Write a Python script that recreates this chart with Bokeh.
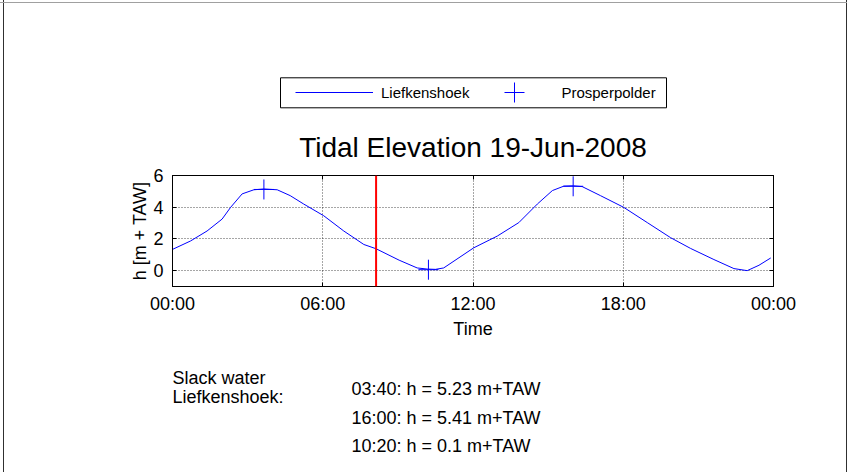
from bokeh.plotting import figure
from bokeh.layouts import column
from bokeh.models import (Range1d, FixedTicker, LinearAxis, Span, Label, Legend,
                          LegendItem, BoxAnnotation)
from bokeh.embed import file_html
from bokeh.resources import INLINE

FONT = "Liberation Sans"

# ---- data (hours since midnight, metres + TAW) ----
time_h = [0.0, 0.72, 1.38, 1.98, 2.32, 2.78, 3.25, 3.65, 4.18, 4.70, 5.24, 6.04,
          6.84, 7.64, 8.13, 9.05, 9.77, 10.17, 10.50, 10.83, 12.03, 12.97, 13.83,
          14.57, 15.17, 15.63, 16.00, 16.36, 17.09, 18.02, 18.96, 19.89, 20.69,
          21.62, 22.42, 22.95, 23.42, 23.89]
level_m = [1.34, 1.87, 2.50, 3.25, 3.99, 4.84, 5.10, 5.15, 5.10, 4.73, 4.20, 3.46,
           2.50, 1.65, 1.38, 0.66, 0.17, 0.10, 0.08, 0.17, 1.44, 2.18, 3.03,
           4.20, 5.05, 5.33, 5.35, 5.30, 4.73, 3.99, 3.03, 2.08, 1.40,
           0.70, 0.13, 0.00, 0.34, 0.80]
slack_time_h = [3.65, 16.0, 10.22]
slack_level_m = [5.12, 5.32, 0.06]
current_time_h = 8.13

x_ticks = [0, 6, 12, 18, 24]
x_tick_labels = ["00:00", "06:00", "12:00", "18:00", "00:00"]
y_ticks = [0, 2, 4, 6]

title_text = "Tidal Elevation 19-Jun-2008"
series_names = ["Liefkenshoek", "Prosperpolder"]
note_heading = ["Slack water", "Liefkenshoek:"]
note_lines = ["03:40: h = 5.23 m+TAW", "16:00: h = 5.41 m+TAW", "10:20: h = 0.1 m+TAW"]

W = 847
FRAME_L, FRAME_R = 172, 773   # page x of the chart's plotting area
LINE_COLOR = "#0000ff"


def canvas_fig(h):
    """A text/legend strip; its plotting area lines up with the chart's, in page pixels."""
    f = figure(width=W, height=h, output_backend="svg", toolbar_location=None,
               title=None, x_axis_location=None, y_axis_location=None,
               x_range=Range1d(FRAME_L, FRAME_R), y_range=Range1d(0, h), min_border=0)
    f.outline_line_color = None
    f.background_fill_alpha = 0
    f.border_fill_alpha = 0
    f.xgrid.visible = False
    f.ygrid.visible = False
    return f


# ---- top: legend and title ----
H_TOP = 165
top = canvas_fig(H_TOP)
top.add_layout(BoxAnnotation(left=280, right=666, bottom=H_TOP - 107.3, top=H_TOP - 77.3,
                             fill_color="white", fill_alpha=1.0,
                             line_color="black", line_width=1, line_alpha=1.0))
# legend-only renderers: same series, which fall outside this strip's range
leg_line = top.line(time_h, level_m, line_color=LINE_COLOR, line_width=1)
leg_cross = top.scatter(slack_time_h, slack_level_m, marker="cross", size=20,
                        line_color=LINE_COLOR, line_width=1)
legend = Legend(items=[LegendItem(label=series_names[0], renderers=[leg_line]),
                       LegendItem(label=series_names[1], renderers=[leg_cross])],
                orientation="horizontal", location=(295 - FRAME_L, H_TOP - 117.3),
                label_text_font=FONT, label_text_font_size="15px",
                label_text_color="black",
                glyph_width=78, glyph_height=50, label_height=50,
                padding=0, spacing=6, label_standoff=8, margin=0,
                border_line_color=None, background_fill_alpha=0)
top.add_layout(legend)
top.add_layout(Label(x=472.5, y=H_TOP - 157.3 + 10, text=title_text,
                     text_align="center", text_baseline="alphabetic",
                     text_font=FONT, text_font_size="28px", text_color="black"))

# ---- main chart ----
H_MAIN = 195
p = figure(width=W, height=H_MAIN, output_backend="svg", toolbar_location=None,
           title=None, x_range=Range1d(0, 24), y_range=Range1d(-1, 6),
           min_border_left=FRAME_L, min_border_right=W - FRAME_R,
           min_border_top=10, min_border_bottom=74)
p.outline_line_color = "black"
p.outline_line_alpha = 1.0
p.background_fill_color = "white"
p.border_fill_alpha = 0

xa = p.xaxis[0]
ya = p.yaxis[0]
xa.ticker = FixedTicker(ticks=x_ticks)
xa.major_label_overrides = {t: l for t, l in zip(x_ticks, x_tick_labels)}
ya.ticker = FixedTicker(ticks=y_ticks)
xa.axis_label = "Time"
ya.axis_label = "h [m + TAW]"
for ax in (xa, ya):
    ax.major_label_text_font = FONT
    ax.major_label_text_font_size = "18px"
    ax.major_label_text_color = "black"
    ax.axis_label_text_font = FONT
    ax.axis_label_text_font_size = "18px"
    ax.axis_label_text_font_style = "normal"
    ax.axis_label_text_color = "black"
    ax.major_tick_in = 4
    ax.major_tick_out = 0
    ax.minor_tick_line_color = None
    ax.axis_line_color = "black"
    ax.major_tick_line_color = "black"
xa.major_label_standoff = 7
xa.axis_label_standoff = 2
ya.major_label_standoff = 9
ya.axis_label_standoff = 0

for loc, tk in (("right", y_ticks), ("above", x_ticks)):
    ax = LinearAxis(ticker=FixedTicker(ticks=tk), major_tick_in=4, major_tick_out=0,
                    minor_tick_line_color=None, axis_line_color="black",
                    major_label_standoff=0,
                    major_label_text_alpha=0, major_label_text_font_size="1px")
    p.add_layout(ax, loc)

for g, tk in ((p.xgrid[0], x_ticks), (p.ygrid[0], y_ticks)):
    g.ticker = FixedTicker(ticks=tk)
    g.grid_line_color = "black"
    g.grid_line_alpha = 0.7
    g.grid_line_dash = "1 2"
    g.grid_line_width = 1

p.add_layout(Span(location=current_time_h, dimension="height",
                  line_color="#ff0000", line_width=2))
p.line(time_h, level_m, line_color=LINE_COLOR, line_width=1)
p.scatter(slack_time_h, slack_level_m, marker="cross", size=20,
          line_color=LINE_COLOR, line_width=1)

# ---- bottom: notes ----
H_BOT = 472 - H_TOP - H_MAIN
bot = canvas_fig(H_BOT)
Y0 = H_TOP + H_MAIN + H_BOT  # page y of the canvas bottom
LIFT = 5.5
for t, base in zip(note_heading, (382.9, 402.0)):
    bot.add_layout(Label(x=FRAME_L, y=Y0 - base + LIFT, text=t, text_baseline="alphabetic",
                         text_font=FONT, text_font_size="18px", text_color="black"))
for t, base in zip(note_lines, (393.9, 422.9, 451.2)):
    bot.add_layout(Label(x=351, y=Y0 - base + LIFT, text=t, text_baseline="alphabetic",
                         text_font=FONT, text_font_size="18px", text_color="black"))

frame_css = ("linear-gradient(#a0a0a0,#a0a0a0) 0 2px / 100% 1px no-repeat, "
             "linear-gradient(#303030,#303030) 3px 0 / 1px 100% no-repeat, "
             "linear-gradient(#303030,#303030) 846px 0 / 1px 100% no-repeat, white")
page = column(top, p, bot, spacing=0, styles={"background": frame_css})

open("out.html", "w").write(file_html(page, INLINE))
